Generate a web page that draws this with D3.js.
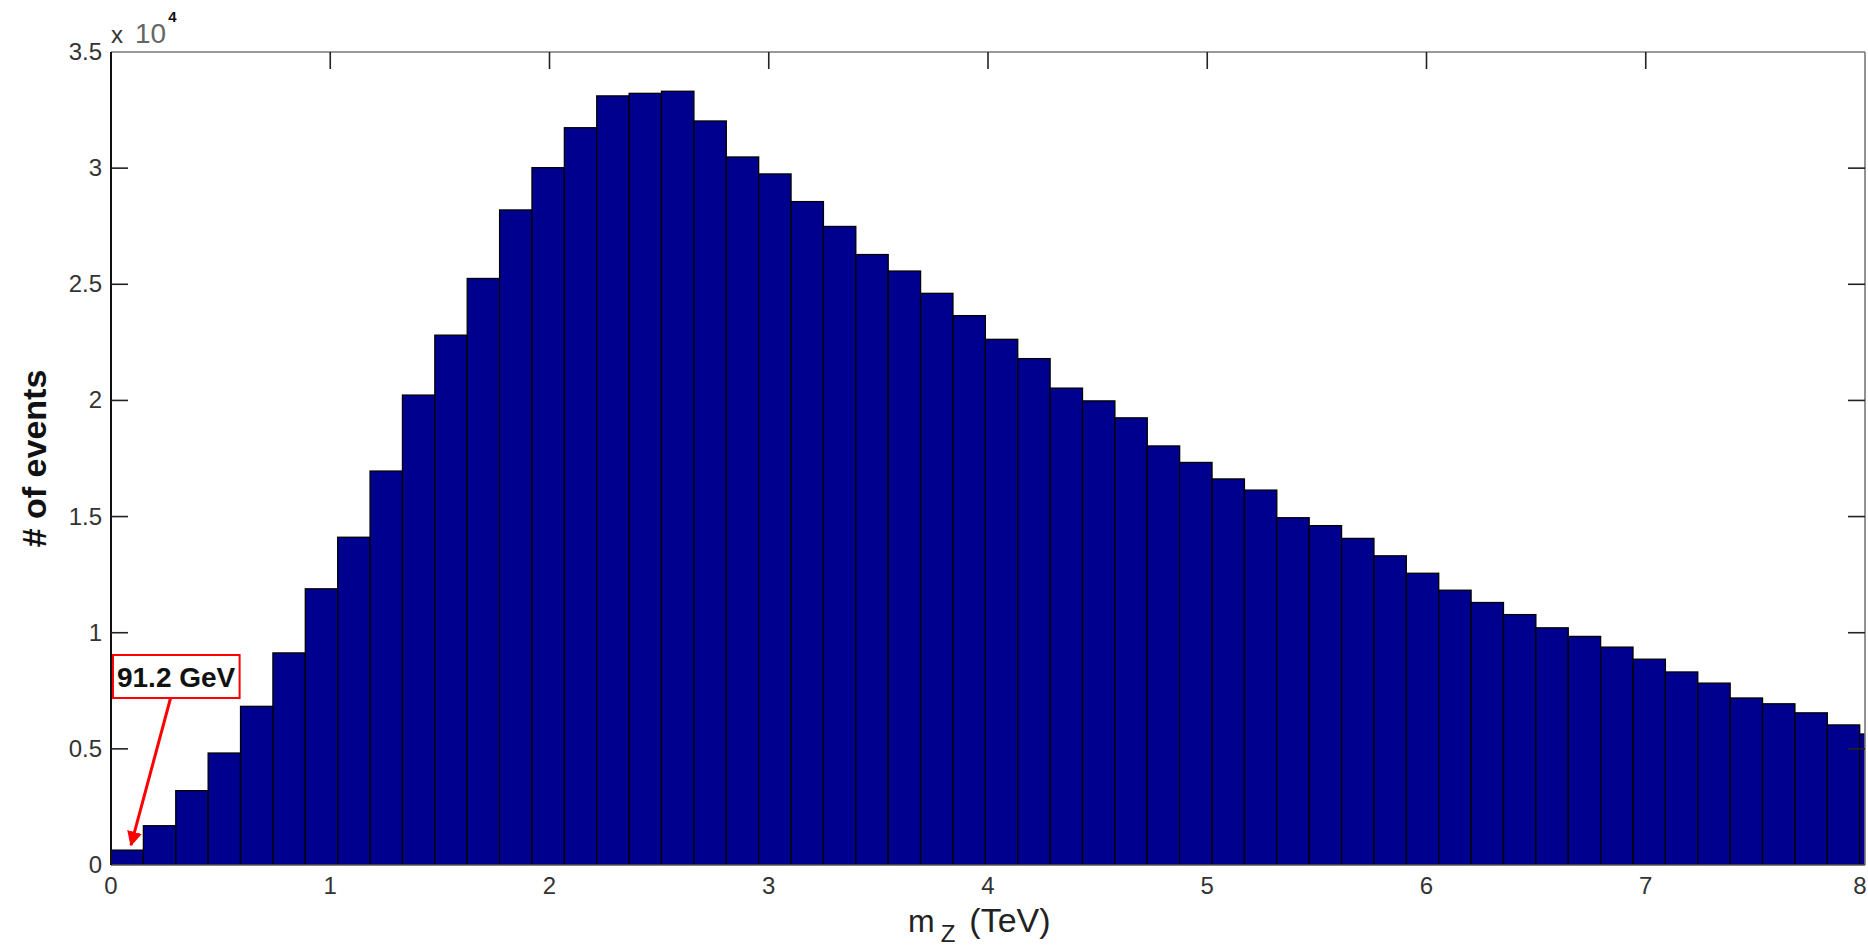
<!DOCTYPE html>
<html>
<head>
<meta charset="utf-8">
<script src="https://cdn.jsdelivr.net/npm/d3@7"></script>
<style>
  html, body { margin: 0; padding: 0; background: #fff; }
  svg { display: block; }
  text { font-family: "Liberation Sans", Arial, Helvetica, sans-serif; }
</style>
</head>
<body>
<svg id="chart" width="1868" height="951"></svg>
<script>
// ---- data ----
const binWidth = 0.1477; // TeV
const counts = [640, 1690, 3200, 4820, 6830, 9130, 11890, 14110, 16960, 20230,
  22810, 25250, 28200, 30020, 31740, 33110, 33220, 33310, 32030, 30480,
  29750, 28560, 27490, 26280, 25570, 24610, 23650, 22630, 21800, 20530,
  19980, 19250, 18040, 17330, 16620, 16140, 14950, 14610, 14060, 13310,
  12560, 11830, 11300, 10780, 10210, 9840, 9380, 8860, 8310, 7830,
  7190, 6940, 6550, 6030, 5640];
const xTicks = [0, 1, 2, 3, 4, 5, 6, 7, 8];
const xTickLabels = ["0", "1", "2", "3", "4", "5", "6", "7", "8"];
const yTicks = [0, 5000, 10000, 15000, 20000, 25000, 30000, 35000];
const yTickLabels = ["0", "0.5", "1", "1.5", "2", "2.5", "3", "3.5"];
const xLabelMain = "m";
const xLabelSub = "Z";
const xLabelUnit = "(TeV)";
const yLabel = "# of events";
const annotationText = "91.2 GeV";
const annotationTip = [0.0912, 860];      // TeV, events
const annotationBox = [0.009, 9040];      // box top-left, TeV / events

// ---- layout ----
(function () {
const svg = d3.select("#chart");
const mL = 111, mR = 1865, mT = 52, mB = 865;
const x = d3.scaleLinear().domain([0, 8]).range([mL, mR]);
const y = d3.scaleLinear().domain([0, 35000]).range([mB, mT]);

const defs = svg.append("defs");
defs.append("clipPath").attr("id", "plotclip")
  .append("rect").attr("x", mL).attr("y", mT)
  .attr("width", mR - mL).attr("height", mB - mT);
defs.append("marker").attr("id", "arrowhead")
  .attr("viewBox", "0 0 10 10").attr("refX", 9).attr("refY", 5)
  .attr("markerWidth", 5).attr("markerHeight", 5).attr("orient", "auto")
  .attr("markerUnits", "strokeWidth")
  .append("path").attr("d", "M0,0 L10,5 L0,10 Z").attr("fill", "#f00");

// bars
const bins = counts.map((c, i) => ({ x0: i * binWidth, x1: (i + 1) * binWidth, c }));
svg.append("g").attr("clip-path", "url(#plotclip)")
  .selectAll("rect").data(bins).join("rect")
  .attr("x", d => x(d.x0))
  .attr("y", d => y(d.c))
  .attr("width", d => x(d.x1) - x(d.x0))
  .attr("height", d => y(0) - y(d.c))
  .attr("fill", "#00008f")
  .attr("stroke", "#000")
  .attr("stroke-width", 1.3);

// frame
svg.append("line").attr("x1", mL).attr("x2", mR).attr("y1", mT).attr("y2", mT)
  .attr("stroke", "#777").attr("stroke-width", 1.6);
svg.append("line").attr("x1", mR).attr("x2", mR).attr("y1", mT).attr("y2", mB)
  .attr("stroke", "#777").attr("stroke-width", 1.6);
svg.append("line").attr("x1", mL).attr("x2", mR).attr("y1", mB).attr("y2", mB)
  .attr("stroke", "#555").attr("stroke-width", 1.6);
svg.append("line").attr("x1", mL).attr("x2", mL).attr("y1", mT).attr("y2", mB)
  .attr("stroke", "#111").attr("stroke-width", 2);

// ticks (inward), mirrored on top & right
const tickLen = 17;
const gx = svg.append("g");
gx.selectAll("line").data(xTicks.slice(1, -1)).join("line")
  .attr("x1", d => x(d)).attr("x2", d => x(d))
  .attr("y1", mT).attr("y2", mT + tickLen)
  .attr("stroke", "#222").attr("stroke-width", 1.6);
gx.selectAll("text").data(xTicks).join("text")
  .attr("x", d => Math.min(x(d), 1860)).attr("y", 894)
  .attr("text-anchor", "middle").attr("font-size", 24).attr("fill", "#333")
  .text((d, i) => xTickLabels[i]);

const gyl = svg.append("g");
gyl.selectAll("line").data(yTicks.slice(1, -1)).join("line")
  .attr("x1", mL).attr("x2", mL + tickLen)
  .attr("y1", d => y(d)).attr("y2", d => y(d))
  .attr("stroke", "#222").attr("stroke-width", 1.6);
const gyr = svg.append("g");
gyr.selectAll("line").data(yTicks.slice(1, -1)).join("line")
  .attr("x1", mR - tickLen).attr("x2", mR)
  .attr("y1", d => y(d)).attr("y2", d => y(d))
  .attr("stroke", "#222").attr("stroke-width", 1.6);
const gyt = svg.append("g");
gyt.selectAll("text").data(yTicks).join("text")
  .attr("x", 102).attr("y", d => y(d) + 8)
  .attr("text-anchor", "end").attr("font-size", 24).attr("fill", "#333")
  .text((d, i) => yTickLabels[i]);

// exponent label
const ex = svg.append("text").attr("x", mL).attr("y", 43).attr("fill", "#333");
ex.append("tspan").attr("font-size", 24).text("x");
ex.append("tspan").attr("font-size", 28).attr("dx", 12).attr("fill", "#666").text("10");
ex.append("tspan").attr("font-size", 15).attr("font-weight", "bold").attr("fill", "#111")
  .attr("dx", 2).attr("dy", -21).text("4");

// axis labels
const xl = svg.append("text").attr("x", 908).attr("y", 932).attr("fill", "#222").attr("font-size", 32);
xl.append("tspan").text(xLabelMain);
xl.append("tspan").attr("font-size", 24).attr("dx", 6).attr("dy", 10).text(xLabelSub);
xl.append("tspan").attr("dx", 14).attr("dy", -10).attr("font-size", 34).text(xLabelUnit);

svg.append("text")
  .attr("transform", `translate(46,${(mT + mB) / 2}) rotate(-90)`)
  .attr("text-anchor", "middle").attr("font-size", 34).attr("font-weight", "bold")
  .attr("fill", "#111").text(yLabel);

// annotation
const bx = x(annotationBox[0]), by = y(annotationBox[1]);
const ag = svg.append("g");
const boxRect = ag.append("rect");
const at = ag.append("text").attr("x", bx + 4).attr("y", by + 32)
  .attr("font-size", 28).attr("font-weight", "bold").attr("fill", "#111")
  .text(annotationText);
const bb = at.node().getBBox();
boxRect.attr("x", bx).attr("y", by)
  .attr("width", bb.width + 8).attr("height", 43)
  .attr("fill", "#fff").attr("stroke", "#f00").attr("stroke-width", 2);

const tailX = bx + (bb.width + 8) * 0.455, tailY = by + 43;
ag.append("line")
  .attr("x1", tailX).attr("y1", tailY)
  .attr("x2", x(annotationTip[0])).attr("y2", y(annotationTip[1]))
  .attr("stroke", "#f00").attr("stroke-width", 3)
  .attr("marker-end", "url(#arrowhead)");
})();
</script>
</body>
</html>
